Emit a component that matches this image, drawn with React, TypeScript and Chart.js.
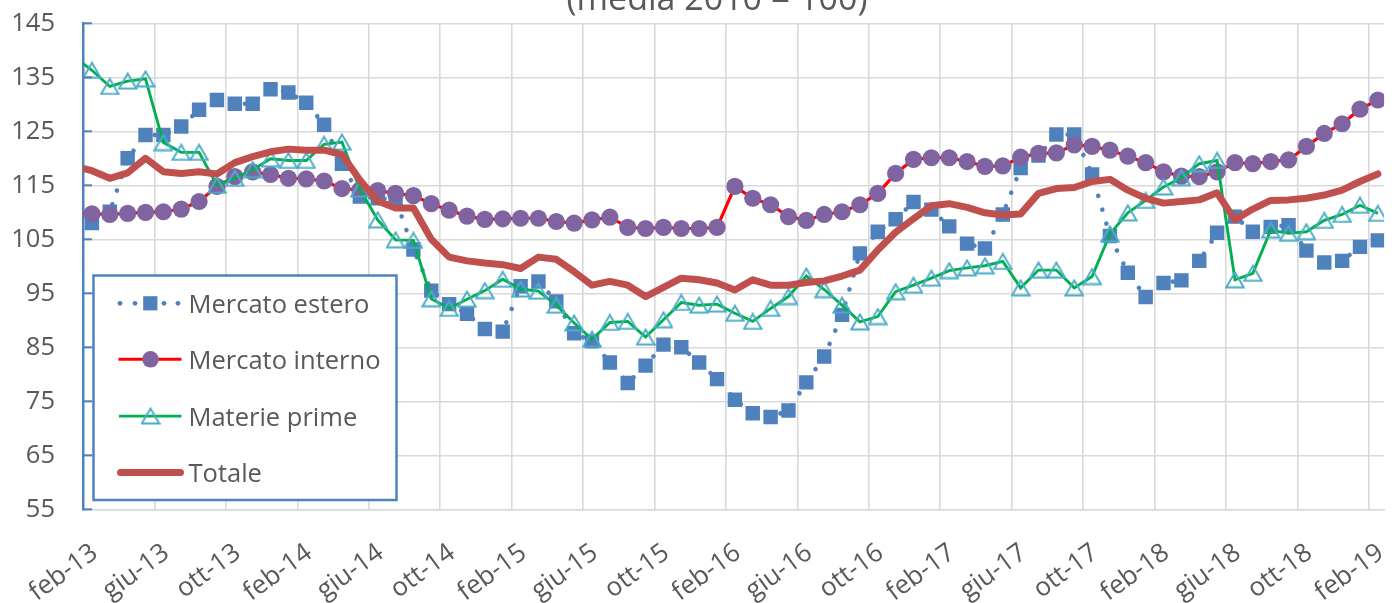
import React, { useEffect, useRef } from 'react';
import { Chart, registerables } from 'chart.js';

Chart.register(...registerables);

// Months from gen-13 (index -1, only the clipped lead-in segment) to feb-19 (index 72)
const tickLabels = [
  'feb-13', 'giu-13', 'ott-13', 'feb-14', 'giu-14', 'ott-14', 'feb-15', 'giu-15', 'ott-15', 'feb-16',
  'giu-16', 'ott-16', 'feb-17', 'giu-17', 'ott-17', 'feb-18', 'giu-18', 'ott-18', 'feb-19',
];

const titleText = '(media 2010 = 100)';

const esteroValues = [
  null,
  108.0, 110.1, 120.0, 124.3, 124.3, 125.9, 129.0, 130.8, 130.1, 130.1,
  132.8, 132.2, 130.3, 126.2, 119.0, 112.9, 112.6, 112.4, 103.1, 95.5,
  93.0, 91.2, 88.4, 87.9, 96.3, 97.2, 93.5, 87.6, 86.1, 82.2,
  78.4, 81.6, 85.5, 85.0, 82.2, 79.1, 75.3, 72.8, 72.1, 73.3,
  78.5, 83.3, 91.0, 102.4, 106.4, 108.7, 111.9, 110.5, 107.4, 104.2,
  103.3, 109.6, 118.2, 120.5, 124.4, 124.4, 117.0, 105.6, 98.8, 94.3,
  96.9, 97.4, 101.0, 106.2, 109.2, 106.4, 107.3, 107.6, 102.9, 100.7,
  101.0, 103.6, 104.8,
];

const internoValues = [
  110.0,
  109.7, 109.6, 109.8, 110.0, 110.1, 110.6, 112.0, 114.8, 116.6, 117.5,
  117.0, 116.3, 116.2, 115.8, 114.4, 114.1, 114.0, 113.5, 113.1, 111.6,
  110.4, 109.3, 108.7, 108.8, 108.9, 108.9, 108.3, 108.0, 108.6, 109.1,
  107.2, 107.0, 107.2, 107.0, 107.0, 107.2, 114.8, 112.6, 111.4, 109.2,
  108.5, 109.6, 110.1, 111.4, 113.5, 117.2, 119.8, 120.1, 120.1, 119.4,
  118.5, 118.6, 120.2, 120.9, 121.0, 122.5, 122.2, 121.5, 120.4, 119.2,
  117.5, 116.7, 116.6, 117.5, 119.2, 119.0, 119.4, 119.7, 122.2, 124.6,
  126.4, 129.1, 130.8,
];

const materieValues = [
  138.8,
  136.3, 133.3, 134.3, 134.7, 122.9, 121.1, 121.1, 115.0, 116.3, 117.9,
  119.9, 119.6, 119.6, 122.6, 123.0, 114.3, 108.6, 104.9, 104.8, 94.0,
  92.2, 93.9, 95.5, 97.6, 95.8, 95.4, 92.8, 89.5, 86.5, 89.6,
  89.8, 86.9, 90.1, 93.3, 92.8, 93.0, 91.3, 89.8, 92.2, 94.4,
  98.2, 95.7, 92.8, 89.7, 90.7, 95.3, 96.5, 97.8, 99.2, 99.7,
  100.1, 100.9, 96.0, 99.3, 99.3, 96.0, 98.1, 106.0, 109.9, 112.2,
  114.7, 116.4, 119.0, 119.6, 97.5, 98.7, 106.7, 106.1, 106.4, 108.5,
  109.6, 111.3, 109.8,
];

const totaleValues = [
  118.6,
  117.7, 116.3, 117.3, 120.0, 117.5, 117.2, 117.5, 117.1, 119.2, 120.3,
  121.2, 121.7, 121.5, 121.5, 120.7, 116.0, 112.1, 110.8, 110.8, 105.0,
  101.7, 101.0, 100.6, 100.3, 99.6, 101.7, 101.3, 99.0, 96.5, 97.2,
  96.5, 94.4, 96.1, 97.8, 97.5, 96.9, 95.6, 97.5, 96.5, 96.5,
  97.0, 97.3, 98.2, 99.3, 103.0, 106.3, 108.8, 111.2, 111.6, 110.9,
  109.9, 109.5, 109.7, 113.5, 114.4, 114.6, 115.7, 116.1, 114.1, 112.6,
  111.7, 112.0, 112.3, 113.6, 108.6, 110.6, 112.2, 112.3, 112.6, 113.2,
  114.1, 115.7, 117.1,
];

const seriesNames = ['Mercato estero', 'Mercato interno', 'Materie prime', 'Totale'];

const C_BLUE = '#4F81BD';
const C_RED = '#FF0000';
const C_PURPLE = '#8064A2';
const C_GREEN = '#00B050';
const C_CYAN = '#4BACC6';
const C_TOT = '#C0504D';
const C_GRID = '#D9D9D9';
const C_TEXT = '#595959';
const FONT = '"Open Sans", "Noto Sans", sans-serif';
const FS = 25.5;
const FS_X = 26;

function makeTriangle(): HTMLCanvasElement {
  const c = document.createElement('canvas');
  c.width = 20;
  c.height = 18;
  const g = c.getContext('2d')!;
  g.strokeStyle = C_CYAN;
  g.lineWidth = 1.9;
  g.lineJoin = 'miter';
  g.beginPath();
  g.moveTo(10, 1.5);
  g.lineTo(18.7, 16.5);
  g.lineTo(1.3, 16.5);
  g.closePath();
  g.stroke();
  return c;
}

const toPoints = (arr: (number | null)[]) => arr.map((v, i) => ({ x: i - 1, y: v }));

export default function App() {
  const ref = useRef<HTMLCanvasElement | null>(null);

  useEffect(() => {
    const canvas = ref.current;
    if (!canvas) return;
    const tri = makeTriangle();
    const hideLead = (ctx: any, r: number) => (ctx.raw && ctx.raw.x < 0 ? 0 : r);

    const decor = {
      id: 'decor',
      afterDraw(chart: any) {
        const ctx = chart.ctx as CanvasRenderingContext2D;
        const area = chart.chartArea;
        const yScale = chart.scales.y;
        ctx.save();
        // inner tick marks on the value axis
        ctx.strokeStyle = C_BLUE;
        ctx.lineWidth = 2;
        yScale.ticks.forEach((t: any) => {
          const y = yScale.getPixelForValue(t.value);
          ctx.beginPath();
          ctx.moveTo(area.left, y);
          ctx.lineTo(area.left + 9, y);
          ctx.stroke();
        });
        // title (partly outside the picture)
        ctx.fillStyle = C_TEXT;
        ctx.font = `34px ${FONT}`;
        ctx.textAlign = 'center';
        ctx.textBaseline = 'alphabetic';
        ctx.fillText(titleText, 717, 10);

        // legend box
        ctx.fillStyle = '#FFFFFF';
        ctx.fillRect(93.5, 275.5, 303, 224.5);
        ctx.strokeStyle = C_BLUE;
        ctx.lineWidth = 2.5;
        ctx.strokeRect(93.5, 275.5, 303, 224.5);

        const rows = [303.3, 359.3, 416, 472.5];
        const base = [313, 369, 426, 482];
        // estero sample
        ctx.fillStyle = C_BLUE;
        [120, 135, 164, 178].forEach((x) => {
          ctx.beginPath();
          ctx.arc(x, rows[0], 2.4, 0, Math.PI * 2);
          ctx.fill();
        });
        ctx.fillRect(143.2, rows[0] - 7.1, 14.2, 14.2);
        // interno sample
        ctx.strokeStyle = C_RED;
        ctx.lineWidth = 3;
        ctx.beginPath();
        ctx.moveTo(118.5, rows[1]);
        ctx.lineTo(181.5, rows[1]);
        ctx.stroke();
        ctx.fillStyle = C_PURPLE;
        ctx.beginPath();
        ctx.arc(150.5, rows[1], 8.3, 0, Math.PI * 2);
        ctx.fill();
        // materie sample
        ctx.strokeStyle = C_GREEN;
        ctx.lineWidth = 2.75;
        ctx.beginPath();
        ctx.moveTo(119, rows[2]);
        ctx.lineTo(181.5, rows[2]);
        ctx.stroke();
        ctx.drawImage(tri, 150.5 - 10, rows[2] - 9);
        // totale sample
        ctx.strokeStyle = C_TOT;
        ctx.lineWidth = 7;
        ctx.lineCap = 'round';
        ctx.beginPath();
        ctx.moveTo(120.5, rows[3]);
        ctx.lineTo(180.5, rows[3]);
        ctx.stroke();

        ctx.fillStyle = C_TEXT;
        ctx.font = `${FS}px ${FONT}`;
        ctx.textAlign = 'left';
        seriesNames.forEach((n, k) => ctx.fillText(n, 188.5, base[k]));
        ctx.restore();
      },
    };

    const chart = new Chart(canvas, {
      type: 'line',
      data: {
        datasets: [
          {
            label: seriesNames[0],
            data: toPoints(esteroValues),
            borderColor: C_BLUE,
            borderWidth: 4.6,
            borderDash: [0.01, 14.5],
            borderCapStyle: 'round',
            pointStyle: 'rect',
            pointRadius: (c: any) => hideLead(c, 10.2),
            pointBackgroundColor: C_BLUE,
            pointBorderWidth: 0,
            order: 4,
            clip: 0,
          },
          {
            label: seriesNames[1],
            data: toPoints(internoValues),
            borderColor: C_RED,
            borderWidth: 3.2,
            pointStyle: 'circle',
            pointRadius: (c: any) => hideLead(c, 8.6),
            pointBackgroundColor: C_PURPLE,
            pointBorderColor: C_PURPLE,
            pointBorderWidth: 0,
            order: 3,
            clip: 0,
          },
          {
            label: seriesNames[2],
            data: toPoints(materieValues),
            borderColor: C_GREEN,
            borderWidth: 2.9,
            pointStyle: tri,
            pointRadius: (c: any) => hideLead(c, 10),
            order: 2,
            clip: 0,
          },
          {
            label: seriesNames[3],
            data: toPoints(totaleValues),
            borderColor: C_TOT,
            borderWidth: 7,
            borderJoinStyle: 'round',
            borderCapStyle: 'round',
            pointRadius: 0,
            order: 1,
            clip: 0,
          },
        ] as any,
      },
      options: {
        animation: false,
        responsive: false,
        devicePixelRatio: 1,
        events: [],
        layout: { padding: { top: 23.3, left: 0, right: 0, bottom: 0 } },
        plugins: {
          legend: { display: false },
          title: { display: false },
          tooltip: { enabled: false },
        },
        scales: {
          x: {
            type: 'linear',
            position: 'bottom',
            min: -0.5,
            max: 72.35,
            afterBuildTicks: (s: any) => {
              s.ticks = tickLabels.map((_, k) => ({ value: k * 4 }));
            },
            afterFit: (s: any) => {
              s.height = 93.7;
              s.paddingLeft = 0;
              s.paddingRight = 0;
            },
            grid: { display: false, drawTicks: false },
            border: { display: true, color: C_GRID, width: 1.5 },
            ticks: {
              autoSkip: false,
              minRotation: 36,
              maxRotation: 36,
              padding: 28,
              labelOffset: 3,
              color: C_TEXT,
              font: { family: FONT, size: FS_X },
              callback: (v: any) => tickLabels[Math.round(Number(v) / 4)] ?? '',
            },
          },
          xg: {
            type: 'linear',
            position: 'top',
            min: -0.5,
            max: 72.35,
            afterBuildTicks: (s: any) => {
              s.ticks = tickLabels.map((_, k) => ({ value: k * 4 - 0.5 }));
            },
            afterFit: (s: any) => {
              s.height = 0;
              s.paddingLeft = 0;
              s.paddingRight = 0;
            },
            grid: { color: C_GRID, lineWidth: 1.6, drawTicks: false },
            border: { display: false },
            ticks: { display: false },
          },
          y: {
            type: 'linear',
            min: 55,
            max: 145,
            afterFit: (s: any) => {
              s.width = 83;
              s.paddingTop = 0;
              s.paddingBottom = 0;
            },
            grid: { color: C_GRID, lineWidth: 1.6, drawTicks: false },
            border: { display: true, color: C_BLUE, width: 2.5 },
            ticks: {
              stepSize: 10,
              padding: 28,
              color: C_TEXT,
              font: { family: FONT, size: FS },
            },
          },
        },
      } as any,
      plugins: [decor],
    });

    return () => chart.destroy();
  }, []);

  return (
    <div style={{ position: 'fixed', left: 0, top: 0, width: 1397, height: 603, background: '#fff' }}>
      <canvas ref={ref} width={1397} height={603} style={{ width: 1397, height: 603, display: 'block' }} />
    </div>
  );
}
